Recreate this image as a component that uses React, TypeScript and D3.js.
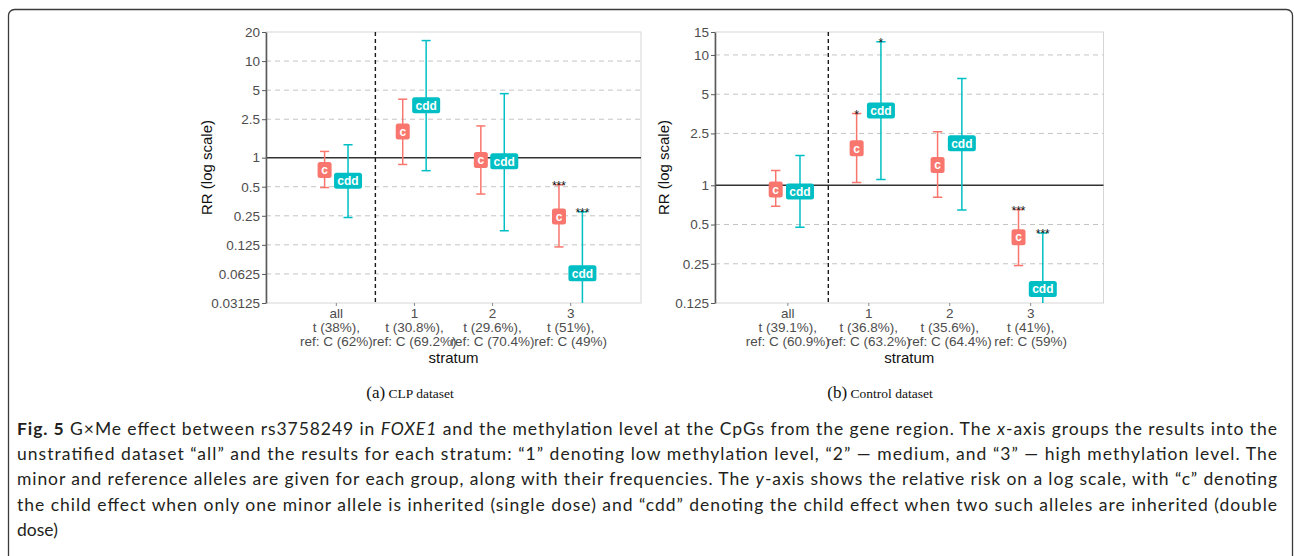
import React, { useEffect, useRef } from "react";
import * as d3 from "d3";

const strata = ["all", "1", "2", "3"];

// x tick labels (three lines each)
const clpTickLines = [
  ["all", "t (38%),", "ref: C (62%)"],
  ["1", "t (30.8%),", "ref: C (69.2%)"],
  ["2", "t (29.6%),", "ref: C (70.4%)"],
  ["3", "t (51%),", "ref: C (49%)"],
];
const ctrlTickLines = [
  ["all", "t (39.1%),", "ref: C (60.9%)"],
  ["1", "t (36.8%),", "ref: C (63.2%)"],
  ["2", "t (35.6%),", "ref: C (64.4%)"],
  ["3", "t (41%),", "ref: C (59%)"],
];

// CLP dataset
const clpC = [0.745, 1.86, 0.946, 0.246];
const clpCLo = [0.49, 0.85, 0.42, 0.119];
const clpCHi = [1.16, 4.03, 2.13, 0.524];
const clpCStars = ["", "", "", "***"];
const clpCdd = [0.577, 3.49, 0.916, 0.0634];
const clpCddLo = [0.24, 0.733, 0.175, 0.02];
const clpCddHi = [1.36, 16.3, 4.6, 0.275];
const clpCddStars = ["", "", "", "***"];
const clpTicks = [0.03125, 0.0625, 0.125, 0.25, 0.5, 1, 2.5, 5, 10, 20];

// Control dataset
const ctrlC = [0.93, 1.92, 1.43, 0.4];
const ctrlCLo = [0.69, 1.05, 0.81, 0.242];
const ctrlCHi = [1.3, 3.55, 2.58, 0.652];
const ctrlCStars = ["", "*", "", "***"];
const ctrlCdd = [0.896, 3.74, 2.1, 0.16];
const ctrlCddLo = [0.477, 1.11, 0.645, 0.08];
const ctrlCddHi = [1.69, 12.6, 6.61, 0.43];
const ctrlCddStars = ["", "*", "", "***"];
const ctrlTicks = [0.125, 0.25, 0.5, 1, 2.5, 5, 10, 15];

const RED = "#F8766D";
const CYAN = "#00BFC4";
const SANS = "'Liberation Sans', Arial, Helvetica, sans-serif";

function drawPanel(svg, opt) {
  const { x0, x1, y0, y1, ticks, tickLines, series, titleX, id } = opt;
  const g = svg.append("g");

  const x = d3.scalePoint().domain(strata).range([x0, x1]).padding(0.9);
  const y = d3
    .scaleLog()
    .domain([ticks[0], ticks[ticks.length - 1]])
    .range([y1, y0]);
  const step = x.step();
  const dodge = step * 0.15;
  const whisk = step * 0.058;

  g.append("defs")
    .append("clipPath")
    .attr("id", id)
    .append("rect")
    .attr("x", x0)
    .attr("y", y0)
    .attr("width", x1 - x0)
    .attr("height", y1 - y0);

  // panel border
  g.append("rect")
    .attr("x", x0)
    .attr("y", y0)
    .attr("width", x1 - x0)
    .attr("height", y1 - y0)
    .attr("fill", "none")
    .attr("stroke", "#d6d6d6")
    .attr("stroke-width", 1);

  // horizontal dashed grid
  g.selectAll(".grid")
    .data(ticks.slice(1, -1).filter((t) => t !== 1))
    .join("line")
    .attr("x1", x0)
    .attr("x2", x1)
    .attr("y1", (d) => y(d))
    .attr("y2", (d) => y(d))
    .attr("stroke", "#c4c4c4")
    .attr("stroke-width", 1)
    .attr("stroke-dasharray", "5,4");

  // reference line at RR = 1
  g.append("line")
    .attr("x1", x0)
    .attr("x2", x1)
    .attr("y1", y(1))
    .attr("y2", y(1))
    .attr("stroke", "#333")
    .attr("stroke-width", 1.5);

  // separator between "all" and strata
  const sep = (x("all") + x("1")) / 2;
  g.append("line")
    .attr("x1", sep)
    .attr("x2", sep)
    .attr("y1", y0)
    .attr("y2", y1)
    .attr("stroke", "#1a1a1a")
    .attr("stroke-width", 1.4)
    .attr("stroke-dasharray", "4,3");

  // y axis
  const yAxis = g
    .append("g")
    .attr("transform", `translate(${x0},0)`)
    .call(
      d3
        .axisLeft(y)
        .tickValues(ticks)
        .tickFormat((d) => String(d))
        .tickSize(4)
        .tickSizeOuter(0)
    );
  yAxis.select(".domain").attr("stroke", "#5a5a5a").attr("stroke-width", 1.6);
  yAxis.selectAll(".tick line").attr("stroke", "#5a5a5a").attr("stroke-width", 1);
  yAxis
    .selectAll(".tick text")
    .attr("x", -6)
    .attr("fill", "#4d4d4d")
    .style("font-family", SANS)
    .style("font-size", "13.5px");

  // x ticks
  g.selectAll(".xtick")
    .data(strata)
    .join("line")
    .attr("x1", (d) => x(d))
    .attr("x2", (d) => x(d))
    .attr("y1", y1)
    .attr("y2", y1 + 3)
    .attr("stroke", "#8a8a8a");

  const xl = g
    .selectAll(".xlab")
    .data(strata)
    .join("text")
    .attr("x", (d) => x(d))
    .attr("y", y1 + 15)
    .attr("text-anchor", "middle")
    .attr("fill", "#4d4d4d")
    .style("font-family", SANS)
    .style("font-size", "13.5px");
  xl.selectAll("tspan")
    .data((d, i) => tickLines[i].map((t) => ({ t, xv: x(d) })))
    .join("tspan")
    .attr("x", (d) => d.xv)
    .attr("dy", (d, i) => (i === 0 ? 0 : 14))
    .text((d) => d.t);

  // axis titles
  g.append("text")
    .attr("x", (x0 + x1) / 2)
    .attr("y", y1 + 60)
    .attr("text-anchor", "middle")
    .attr("fill", "#111")
    .style("font-family", SANS)
    .style("font-size", "15px")
    .text("stratum");

  g.append("text")
    .attr("transform", `translate(${titleX},${(y0 + y1) / 2}) rotate(-90)`)
    .attr("text-anchor", "middle")
    .attr("fill", "#111")
    .style("font-family", SANS)
    .style("font-size", "15px")
    .text("RR (log scale)");

  // error bars + labels
  series.forEach((s) => {
    const rows = strata.map((k, i) => ({
      k,
      est: s.est[i],
      lo: s.lo[i],
      hi: s.hi[i],
      star: s.stars[i],
      cx: x(k) + s.side * dodge,
    }));
    const eb = g.append("g").attr("clip-path", `url(#${id})`);
    eb.selectAll(".v")
      .data(rows)
      .join("line")
      .attr("x1", (d) => d.cx)
      .attr("x2", (d) => d.cx)
      .attr("y1", (d) => y(d.lo))
      .attr("y2", (d) => y(d.hi))
      .attr("stroke", s.color)
      .attr("stroke-width", 1.5);
    ["lo", "hi"].forEach((key) => {
      eb.selectAll(".w" + key)
        .data(rows)
        .join("line")
        .attr("x1", (d) => d.cx - whisk)
        .attr("x2", (d) => d.cx + whisk)
        .attr("y1", (d) => y(d[key]))
        .attr("y2", (d) => y(d[key]))
        .attr("stroke", s.color)
        .attr("stroke-width", 1.5);
    });

    const bw = s.label === "c" ? 14 : 28;
    eb.selectAll(".box")
      .data(rows)
      .join("rect")
      .attr("x", (d) => d.cx - bw / 2)
      .attr("y", (d) => y(d.est) - 8)
      .attr("width", bw)
      .attr("height", 16)
      .attr("rx", 2.5)
      .attr("fill", s.color);
    eb.selectAll(".lab")
      .data(rows)
      .join("text")
      .attr("x", (d) => d.cx)
      .attr("y", (d) => y(d.est) + 4.3)
      .attr("text-anchor", "middle")
      .attr("fill", "#fff")
      .style("font-family", SANS)
      .style("font-size", "12px")
      .style("font-weight", "bold")
      .text(s.label);

    g.selectAll(".star" + s.label)
      .data(rows.filter((d) => d.star))
      .join("text")
      .attr("x", (d) => d.cx)
      .attr("y", (d) => y(d.hi) + 5)
      .attr("text-anchor", "middle")
      .attr("fill", "#111")
      .style("font-family", SANS)
      .style("font-size", "12px")
      .text((d) => d.star);
  });
}

const captionLines = [
  [
    { t: "Fig. 5", b: true },
    { t: " G×Me effect between rs3758249 in " },
    { t: "FOXE1", i: true },
    { t: " and the methylation level at the CpGs from the gene region. The " },
    { t: "x", i: true },
    { t: "-axis groups the results into the" },
  ],
  [
    {
      t: "unstratified dataset “all” and the results for each stratum: “1” denoting low methylation level, “2” — medium, and “3” — high methylation level. The",
    },
  ],
  [
    { t: "minor and reference alleles are given for each group, along with their frequencies. The " },
    { t: "y", i: true },
    { t: "-axis shows the relative risk on a log scale, with “c” denoting" },
  ],
  [
    {
      t: "the child effect when only one minor allele is inherited (single dose) and “cdd” denoting the child effect when two such alleles are inherited (double",
    },
  ],
  [{ t: "dose)" }],
];

export default function App() {
  const ref = useRef(null);

  useEffect(() => {
    const svg = d3.select(ref.current);
    svg.selectAll("*").remove();

    // figure frame
    svg
      .append("rect")
      .attr("x", 8.5)
      .attr("y", 9.5)
      .attr("width", 1284)
      .attr("height", 620)
      .attr("rx", 6)
      .attr("fill", "#fff")
      .attr("stroke", "#3a3a3a")
      .attr("stroke-width", 1.3);

    drawPanel(svg, {
      id: "clipA",
      x0: 266,
      x1: 641,
      y0: 32,
      y1: 303,
      ticks: clpTicks,
      tickLines: clpTickLines,
      titleX: 212,
      series: [
        { label: "c", color: RED, side: -1, est: clpC, lo: clpCLo, hi: clpCHi, stars: clpCStars },
        { label: "cdd", color: CYAN, side: 1, est: clpCdd, lo: clpCddLo, hi: clpCddHi, stars: clpCddStars },
      ],
    });

    drawPanel(svg, {
      id: "clipB",
      x0: 715,
      x1: 1103.5,
      y0: 32,
      y1: 303,
      ticks: ctrlTicks,
      tickLines: ctrlTickLines,
      titleX: 669,
      series: [
        { label: "c", color: RED, side: -1, est: ctrlC, lo: ctrlCLo, hi: ctrlCHi, stars: ctrlCStars },
        { label: "cdd", color: CYAN, side: 1, est: ctrlCdd, lo: ctrlCddLo, hi: ctrlCddHi, stars: ctrlCddStars },
      ],
    });

    // sub captions
    [
      { cx: 410, tag: "(a)", txt: " CLP dataset" },
      { cx: 880, tag: "(b)", txt: " Control dataset" },
    ].forEach((s) => {
      const t = svg
        .append("text")
        .attr("x", s.cx)
        .attr("y", 398)
        .attr("text-anchor", "middle")
        .attr("fill", "#111")
        .style("font-family", "'Liberation Serif', 'DejaVu Serif', serif");
      t.append("tspan").style("font-size", "17px").text(s.tag);
      t.append("tspan").style("font-size", "13.5px").text(s.txt);
    });

    // caption
    captionLines.forEach((parts, li) => {
      const t = svg
        .append("text")
        .attr("x", 17)
        .attr("y", 435 + li * 25.2)
        .attr("fill", "#231f20")
        .style("font-family", "Lato, 'Open Sans', sans-serif")
        .style("font-size", "17.5px");
      if (li < 4) t.attr("textLength", 1260).attr("lengthAdjust", "spacing");
      parts.forEach((p) => {
        const sp = t.append("tspan").text(p.t);
        if (p.b) sp.style("font-weight", "bold");
        if (p.i) sp.style("font-style", "italic");
      });
    });
  }, []);

  return (
    <svg
      ref={ref}
      width={1294}
      height={556}
      style={{ position: "absolute", left: 0, top: 0, background: "#fff" }}
    />
  );
}
